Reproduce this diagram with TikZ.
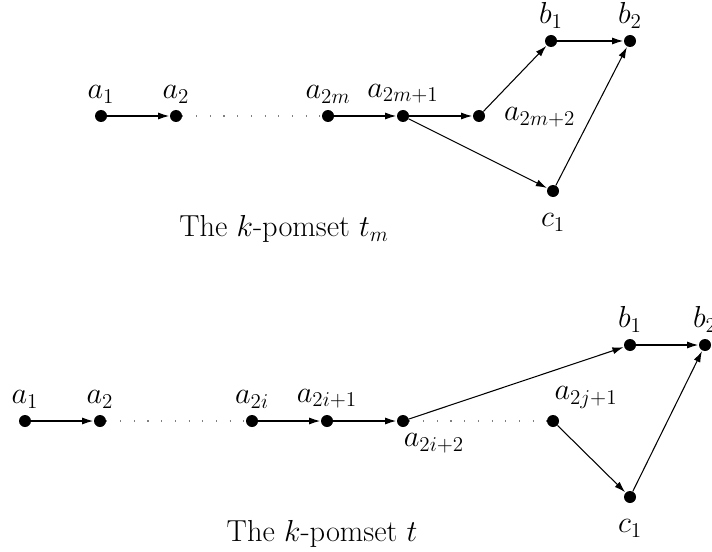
\documentclass[tikz,border=0pt]{standalone}
\usepackage{amsmath}
\usepackage{tikz}
\usetikzlibrary{arrows.meta,positioning}
\DeclareMathSizes{16}{16}{12.5}{10}
\newcommand{\lblfont}{\fontsize{16}{19}\selectfont}
\newcommand{\capfont}{\fontsize{17.28}{21}\selectfont}

\begin{document}
\begin{tikzpicture}[
    ev/.style={circle,fill=black,inner sep=0pt,minimum size=0.24cm},
    arrow/.style={-{Latex[length=2.2mm,width=1.4mm]},line width=0.6pt,shorten >=0.3pt},
    gap/.style={gray,line width=0.6pt,dash pattern=on 0.6pt off 7.2pt},
    lbl/.style={label distance=0cm,font=\lblfont},
    title/.style={font=\capfont}
]
\useasboundingbox (0,0) rectangle (14.24,11.02);
% the k-pomset t_m
\node[ev,label={[lbl]above:$a_1$}] (a1) at (2.02,8.70) {};
\node[ev,label={[lbl]above:$a_2$}] (a2) at (3.52,8.70) {};
\node[ev,label={[lbl]above:$a_{2m}$}] (a2m) at (6.56,8.70) {};
\node[ev,label={[lbl]above:$a_{2m+1}$}] (a2m1) at (8.06,8.70) {};
\node[ev,label={[lbl,xshift=0.25cm,yshift=-0.03cm]right:$a_{2m+2}$}] (a2m2) at (9.58,8.70) {};
\node[ev,label={[lbl]above:$b_1$}] (b1) at (11.02,10.20) {};
\node[ev,label={[lbl]above:$b_2$}] (b2) at (12.60,10.20) {};
\node[ev,label={[lbl,label distance=0.2cm]below:$c_1$}] (c1) at (11.06,7.20) {};
\node[title] (captm) at (5.68,6.44) {The $k$-pomset $t_m$};
\draw[arrow] (a1) -- (a2);
\draw[gap] (a2) -- (a2m);
\draw[arrow] (a2m) -- (a2m1);
\draw[arrow] (a2m1) -- (a2m2);
\draw[arrow] (a2m1) -- (c1);
\draw[arrow] (a2m2) -- (b1);
\draw[arrow] (b1) -- (b2);
\draw[arrow] (c1) -- (b2);
% the k-pomset t
\node[ev,label={[lbl]above:$a_1$}] (e1) at (0.50,2.60) {};
\node[ev,label={[lbl]above:$a_2$}] (e2) at (2.00,2.60) {};
\node[ev,label={[lbl]above:$a_{2i}$}] (e2i) at (5.04,2.60) {};
\node[ev,label={[lbl]above:$a_{2i+1}$}] (e2i1) at (6.54,2.60) {};
\node[ev,label={[lbl,xshift=0.62cm]below:$a_{2i+2}$}] (e2i2) at (8.06,2.60) {};
\node[ev,label={[lbl,xshift=0.66cm]above:$a_{2j+1}$}] (e2j1) at (11.06,2.60) {};
\node[ev,label={[lbl]above:$b_1$}] (f1) at (12.60,4.12) {};
\node[ev,label={[lbl]above:$b_2$}] (f2) at (14.10,4.12) {};
\node[ev,label={[lbl,label distance=0.2cm]below:$c_1$}] (g1) at (12.60,1.08) {};
\node[title] (capt) at (6.44,0.34) {The $k$-pomset $t$};
\draw[arrow] (e1) -- (e2);
\draw[gap] (e2) -- (e2i);
\draw[arrow] (e2i) -- (e2i1);
\draw[arrow] (e2i1) -- (e2i2);
\draw[arrow] (e2i2) -- (f1);
\draw[gap] (e2i2) -- (e2j1);
\draw[arrow] (e2j1) -- (g1);
\draw[arrow] (f1) -- (f2);
\draw[arrow] (g1) -- (f2);
\end{tikzpicture}
\end{document}
